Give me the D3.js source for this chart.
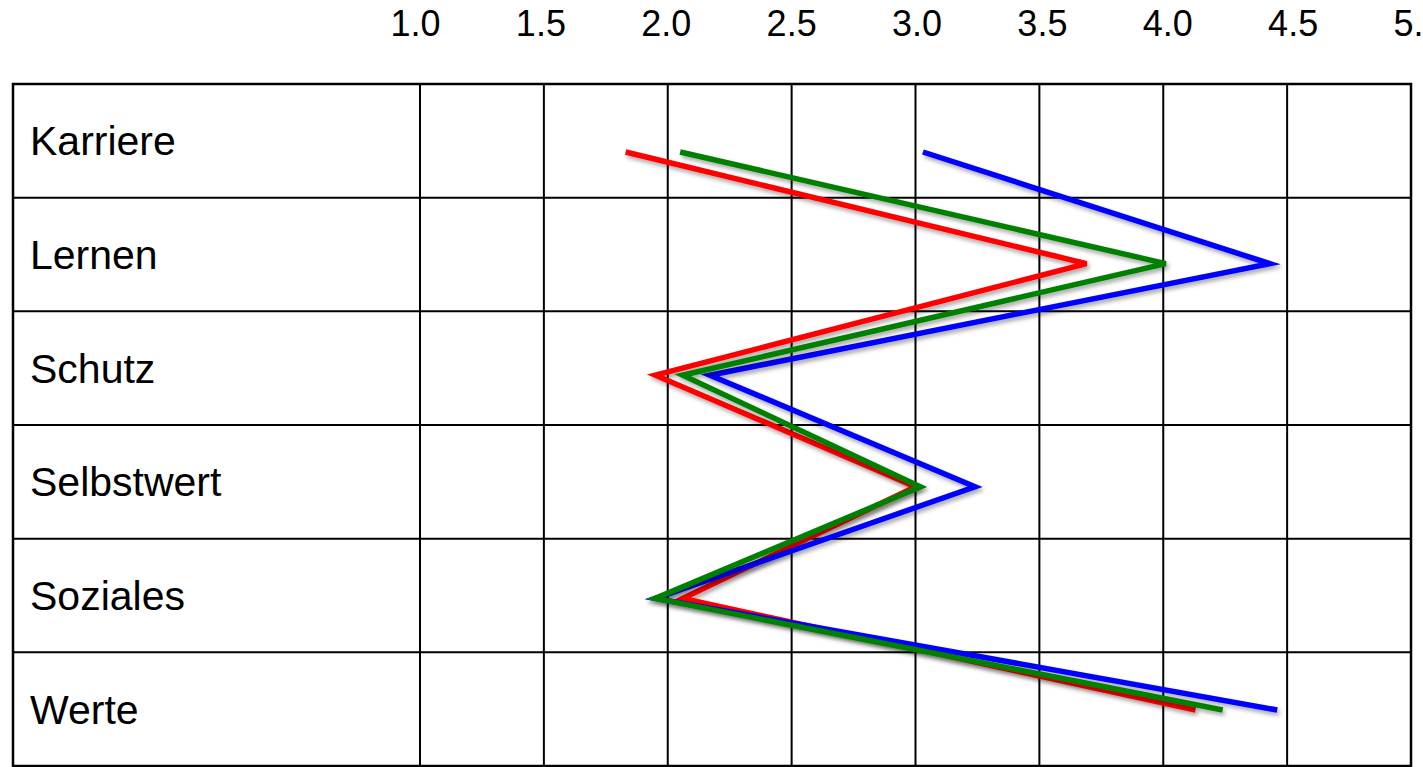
<!DOCTYPE html>
<html>
<head>
<meta charset="utf-8">
<script src="https://cdn.jsdelivr.net/npm/d3@7"></script>
<style>
  html, body { margin: 0; padding: 0; background: #fff; overflow: hidden; }
  svg { display: block; font-family: "Liberation Sans", Arial, sans-serif; }
</style>
</head>
<body>
<svg id="chart" width="1423" height="767"></svg>
<script>
// ---- data ----
const categories = ["Karriere", "Lernen", "Schutz", "Selbstwert", "Soziales", "Werte"];
const tickValues = [1.0, 1.5, 2.0, 2.5, 3.0, 3.5, 4.0, 4.5, 5.0];
const redValues   = [1.83, 3.69, 1.95, 3.00, 2.06, 4.13];
const blueValues  = [3.03, 4.43, 2.17, 3.24, 1.95, 4.46];
const greenValues = [2.05, 4.01, 2.06, 3.02, 1.95, 4.24];
const seriesColors = ["#ff0000", "#0000ff", "#008000"];
const seriesValues = [redValues, blueValues, greenValues];

// ---- layout ----
const tableLeft = 13, gridLeft = 420, gridRight = 1411, gridTop = 84, gridBottom = 766;

const svg = d3.select("#chart");

const defs = svg.append("defs");
const f = defs.append("filter").attr("id", "shadow")
  .attr("x", "-10%").attr("y", "-10%").attr("width", "120%").attr("height", "130%");
f.append("feDropShadow").attr("dx", 2).attr("dy", 3).attr("stdDeviation", 2)
  .attr("flood-color", "#000").attr("flood-opacity", 0.35);

const x = d3.scaleLinear().domain([1, 5]).range([gridLeft, gridRight]);
const xLabel = d3.scaleLinear().domain([1, 5]).range([415, 1418]);
const yBand = d3.scaleBand().domain(categories).range([gridTop, gridBottom]).padding(0);
const yPoint = d3.scalePoint().domain(categories).range([gridTop + 68, gridBottom - 56]);

// top tick labels
const axis = d3.axisTop(xLabel).tickValues(tickValues).tickFormat(d3.format(".1f"))
  .tickSize(0).tickPadding(0);
const ax = svg.append("g").attr("transform", "translate(0,36)").call(axis);
ax.select(".domain").remove();
ax.selectAll("text").attr("font-size", 36).attr("fill", "#000")
  .attr("font-family", "'Liberation Sans', Arial, sans-serif");

// grid
const grid = svg.append("g").attr("stroke", "#000").attr("stroke-width", 2).attr("fill", "none");
grid.selectAll("line.v").data(tickValues).join("line").attr("class", "v")
  .attr("x1", d => x(d)).attr("x2", d => x(d))
  .attr("y1", gridTop).attr("y2", gridBottom);
grid.selectAll("line.h").data(categories).join("line").attr("class", "h")
  .attr("x1", tableLeft).attr("x2", gridRight)
  .attr("y1", d => yBand(d)).attr("y2", d => yBand(d));
grid.append("rect").attr("x", tableLeft).attr("y", gridTop)
  .attr("width", gridRight - tableLeft).attr("height", gridBottom - gridTop)
  .attr("stroke-width", 2.5);

// row labels
svg.append("g").selectAll("text").data(categories).join("text")
  .attr("x", 30)
  .attr("y", d => yBand(d) + yBand.bandwidth() / 2)
  .attr("dy", "0.35em")
  .attr("font-size", 41)
  .attr("fill", "#000")
  .text(d => d);

// lines
const line = d3.line()
  .x(d => x(d.v))
  .y(d => yPoint(d.c));

svg.append("g").selectAll("path").data(seriesValues).join("path")
  .attr("d", vals => line(vals.map((v, i) => ({ v, c: categories[i] }))))
  .attr("fill", "none")
  .attr("stroke", (d, i) => seriesColors[i])
  .attr("stroke-width", 5.5)
  .attr("stroke-linejoin", "miter")
  .attr("stroke-miterlimit", 4)
  .attr("filter", "url(#shadow)");
</script>
</body>
</html>
